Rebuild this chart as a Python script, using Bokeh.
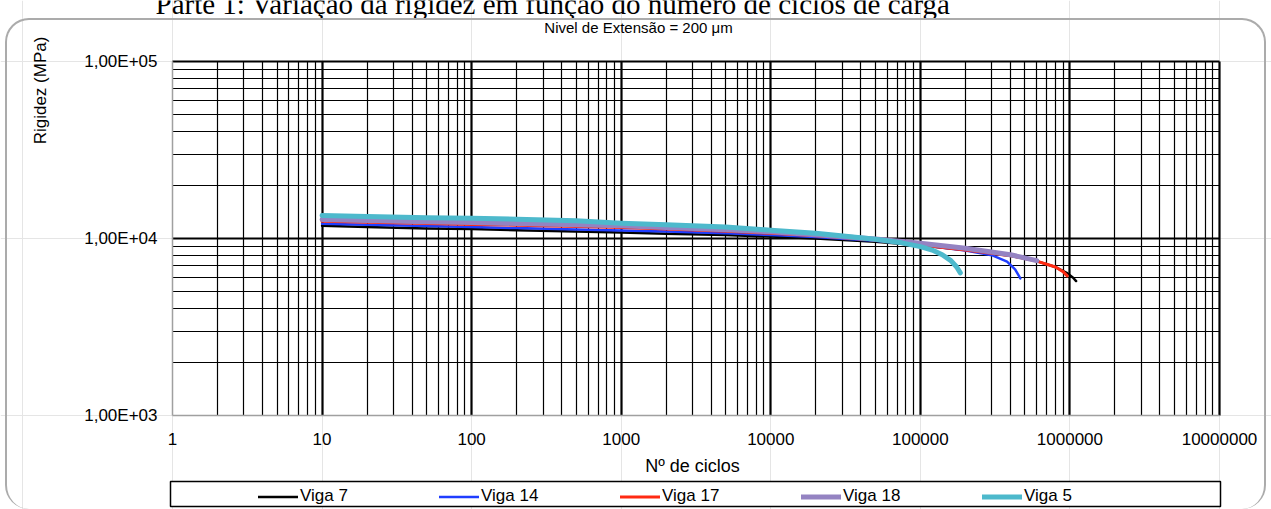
import math
from bokeh.plotting import figure
from bokeh.models import (FixedTicker, Grid, Label, Legend, LegendItem, BoxAnnotation,
                          InlineStyleSheet, ColumnDataSource)
from bokeh.core.properties import value
from bokeh.embed import file_html
from bokeh.resources import INLINE

# ---------------- data ----------------
series_names = ["Viga 7", "Viga 14", "Viga 17", "Viga 18", "Viga 5"]

n_viga7 = [10, 20, 50, 100, 200, 500, 1000, 2000, 5000, 10000, 20000, 50000,
           100000, 200000, 400000, 600000, 800000, 950000, 1050000, 1100000]
e_viga7 = [11800, 11600, 11400, 11300, 11150, 10950, 10800, 10650, 10450, 10250,
           10000, 9600, 9150, 8600, 8000, 7450, 6900, 6400, 6000, 5750]

n_viga14 = [10, 20, 50, 100, 200, 500, 1000, 2000, 5000, 10000, 20000, 50000,
            100000, 200000, 300000, 380000, 430000, 466000]
e_viga14 = [12100, 11950, 11750, 11600, 11450, 11250, 11100, 10950, 10700, 10450,
            10200, 9700, 9200, 8550, 8050, 7400, 6700, 5950]

n_viga17 = [10, 20, 50, 100, 200, 500, 1000, 2000, 5000, 10000, 20000, 50000,
            100000, 200000, 400000, 600000, 800000, 900000, 960000]
e_viga17 = [12500, 12350, 12150, 12000, 11900, 11700, 11550, 11300, 11000, 10700,
            10350, 9800, 9200, 8600, 8000, 7450, 6900, 6500, 6150]

n_viga18 = [10, 20, 50, 100, 200, 500, 1000, 2000, 5000, 10000, 20000, 50000,
            100000, 200000, 400000, 600000]
e_viga18 = [12800, 12650, 12450, 12300, 12150, 11950, 11800, 11550, 11200, 10900,
            10500, 9950, 9400, 8800, 8100, 7500]

n_viga5 = [10, 20, 50, 100, 200, 500, 1000, 2000, 5000, 10000, 20000, 50000,
           75000, 100000, 120000, 140000, 160000, 175000, 185000]
e_viga5 = [13500, 13300, 13100, 13000, 12850, 12600, 12200, 11950, 11600, 11150,
           10700, 9900, 9450, 9000, 8600, 8100, 7500, 6900, 6400]

x_ticks = [1, 10, 100, 1000, 10000, 100000, 1000000, 10000000]
x_tick_labels = ["1", "10", "100", "1000", "10000", "100000", "1000000", "10000000"]
y_ticks = [1000, 10000, 100000]
y_tick_labels = ["1,00E+03", "1,00E+04", "1,00E+05"]

top_caption = "Parte 1: Variação da rigidez em função do número de ciclos de carga"
chart_title = "Nivel de Extensão = 200 μm"
x_title = "Nº de ciclos"
y_title = "Rigidez (MPa)"

FONT = "Liberation Sans"

# ---------------- geometry (pixels) ----------------
W, H = 1271, 509
PX_LEFT, PX_RIGHT = 172, 1219      # where the first / last x tick fall
PY_TOP, PY_BOTTOM = 61, 415        # where the last / first y tick fall
x_dec = math.log10(x_ticks[-1] / x_ticks[0])
y_dec = math.log10(y_ticks[-1] / y_ticks[0])
px_per_dec_x = (PX_RIGHT - PX_LEFT) / x_dec
px_per_dec_y = (PY_BOTTOM - PY_TOP) / y_dec

def px_to_x(px):
    return x_ticks[0] * 10 ** ((px - PX_LEFT) / px_per_dec_x)

def py_to_y(py):
    return y_ticks[-1] * 10 ** (-(py - PY_TOP) / px_per_dec_y)

x_lo, x_hi = px_to_x(0), px_to_x(W)
y_lo, y_hi = py_to_y(H), py_to_y(0)

p = figure(width=W, height=H, x_axis_type="log", y_axis_type="log",
           x_range=(x_lo, x_hi), y_range=(y_lo, y_hi),
           x_axis_location=None, y_axis_location=None,
           output_backend="svg", toolbar_location=None, min_border=0)
p.outline_line_color = None
p.background_fill_color = "white"
p.border_fill_color = "white"

def minors(lo_exp, hi_exp):
    out = []
    for e in range(lo_exp, hi_exp):
        for m in range(2, 10):
            out.append(m * 10 ** e)
    return out

xb = (x_ticks[0], x_ticks[-1])
yb = (y_ticks[0], y_ticks[-1])
e_x0, e_x1 = round(math.log10(x_ticks[0])), round(math.log10(x_ticks[-1]))
e_y0, e_y1 = round(math.log10(y_ticks[0])), round(math.log10(y_ticks[-1]))

xgrid = Grid(dimension=0, ticker=FixedTicker(ticks=x_ticks[1:], minor_ticks=minors(e_x0, e_x1)),
             cross_bounds=yb, grid_line_color="black", grid_line_width=2.2,
             minor_grid_line_color="black", minor_grid_line_width=1.2)
ygrid = Grid(dimension=1, ticker=FixedTicker(ticks=y_ticks[1:], minor_ticks=minors(e_y0, e_y1)),
             cross_bounds=xb, grid_line_color="black", grid_line_width=2.2,
             minor_grid_line_color="black", minor_grid_line_width=1.2)
# grey axis lines (left and bottom)
xaxis_line = Grid(dimension=0, ticker=FixedTicker(ticks=[x_ticks[0]], minor_ticks=[]),
                  cross_bounds=yb, grid_line_color="#a0a0a0", grid_line_width=1.5)
yaxis_line = Grid(dimension=1, ticker=FixedTicker(ticks=[y_ticks[0]], minor_ticks=[]),
                  cross_bounds=xb, grid_line_color="#a0a0a0", grid_line_width=1.5)
for g in (xgrid, ygrid, xaxis_line, yaxis_line):
    p.add_layout(g)

# curves
colors = ["#000000", "#1f3dff", "#ff2a12", "#9483c2", "#4db9cc"]
widths = [2.5, 2.5, 3, 5, 5]
data = [(n_viga7, e_viga7), (n_viga14, e_viga14), (n_viga17, e_viga17),
        (n_viga18, e_viga18), (n_viga5, e_viga5)]
renderers = []
for (xs, ys), c, w in zip(data, colors, widths):
    renderers.append(p.line(xs, ys, line_color=c, line_width=w,
                            line_cap="round", line_join="round"))

# tick labels
xl = ColumnDataSource(dict(x=x_ticks, y=[py_to_y(PY_BOTTOM + 23)] * len(x_ticks), t=x_tick_labels))
p.text(x="x", y="y", text="t", source=xl, text_font=value(FONT), text_font_size=value("17px"),
       text_align="center", text_baseline="middle", text_color="black")
yl = ColumnDataSource(dict(x=[px_to_x(PX_LEFT - 15)] * len(y_ticks), y=y_ticks, t=y_tick_labels))
p.text(x="x", y="y", text="t", source=yl, text_font=value(FONT), text_font_size=value("17px"),
       text_align="right", text_baseline="middle", text_color="black")

# titles (screen units: x from left, y from bottom)
p.add_layout(Label(x=692, y=H - 465, x_units="screen", y_units="screen", text=x_title,
                   text_font=FONT, text_font_size="18px", text_align="center",
                   text_baseline="middle", text_color="black"))
p.add_layout(Label(x=40, y=H - 90, x_units="screen", y_units="screen", text=y_title,
                   text_font=FONT, text_font_size="17px", text_align="center",
                   text_baseline="middle", angle=math.pi / 2, text_color="black"))
p.add_layout(Label(x=638, y=H - 27, x_units="screen", y_units="screen", text=chart_title,
                   text_font=FONT, text_font_size="15px", text_align="center",
                   text_baseline="middle", text_color="black"))
p.add_layout(Label(x=155, y=H - 3, x_units="screen", y_units="screen", text=top_caption,
                   text_font="Liberation Serif", text_font_size="29px", text_align="left",
                   text_baseline="alphabetic", text_color="black"))

# legend box + legend
p.add_layout(BoxAnnotation(left=170, right=1220, top=H - 481, bottom=H - 506,
                           left_units="screen", right_units="screen",
                           top_units="screen", bottom_units="screen",
                           fill_color="white", fill_alpha=1,
                           line_color="black", line_alpha=1, line_width=1.5))
legend = Legend(items=[LegendItem(label=n, renderers=[r]) for n, r in zip(series_names, renderers)],
                orientation="horizontal", location=(258, H - 506),
                glyph_width=40, glyph_height=17, label_standoff=2, label_width=139,
                spacing=0, padding=4, margin=0,
                label_text_font=FONT, label_text_font_size="17px", label_text_color="black",
                border_line_color=None, background_fill_alpha=0)
p.add_layout(legend)

# rounded outer frame of the chart area
p.stylesheets = [InlineStyleSheet(css="""
:host::after { content: ""; position: absolute; left: 5px; top: 18px; width: 1261px; height: 491px;
  border: 2px solid #ababab; border-bottom: 0; border-radius: 24px; box-sizing: border-box;
  pointer-events: none; }
""")]

open("out.html", "w").write(file_html(p, INLINE))
